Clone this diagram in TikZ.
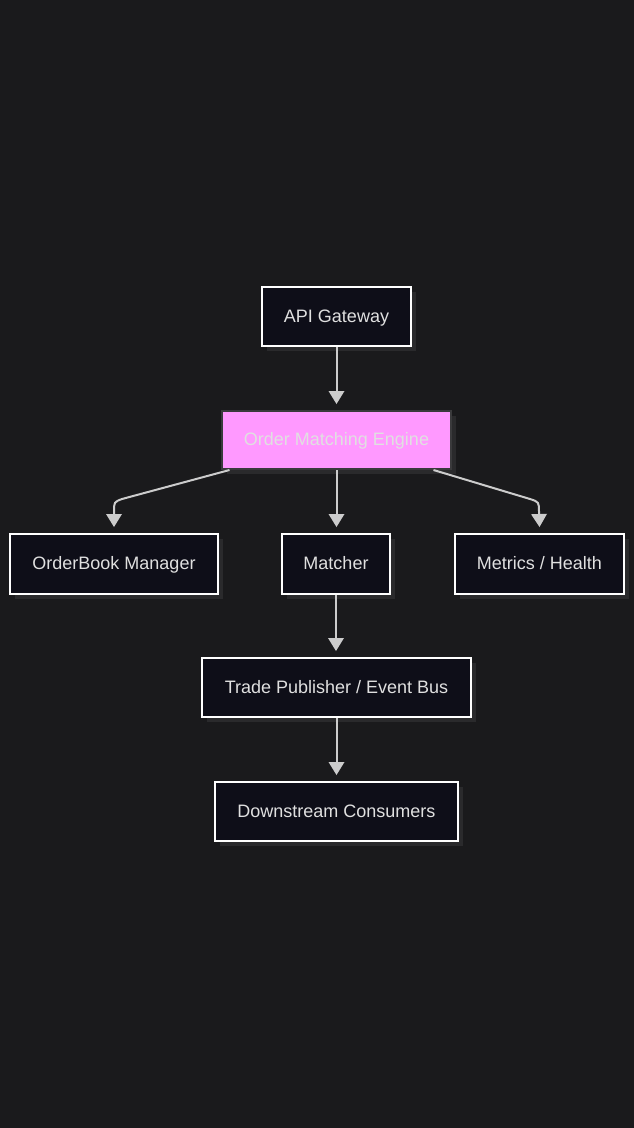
\documentclass[tikz,border=0pt]{standalone}
\usepackage{fontspec}
\setmainfont{Liberation Sans}
\usetikzlibrary{arrows.meta}
\definecolor{bg}{HTML}{1A1A1C}
\definecolor{nodefill}{HTML}{0E0E18}
\definecolor{shadowc}{HTML}{2A2A2C}
\definecolor{txt}{HTML}{E0E0E0}
\definecolor{edgec}{HTML}{CCCCCC}
\definecolor{pinkc}{HTML}{FF99FF}
\definecolor{pinkborder}{HTML}{3A3A3C}
\tikzset{
  box/.style={draw=white, line width=2pt, fill=nodefill, text=txt,
    font=\fontsize{18}{20}\selectfont, inner sep=0pt, anchor=center,
    text height=16pt, text depth=4.4pt,
    preaction={fill=shadowc, transform canvas={xshift=5pt, yshift=-5pt}}},
  hot/.style={box, fill=pinkc, draw=pinkborder},
  conn/.style={draw=edgec, line width=2pt, -{Triangle[length=13pt, width=16pt, line width=0pt]}}
}
\begin{document}
\begin{tikzpicture}[x=1pt, y=-1pt]
\fill[bg] (0,0) rectangle (634,1128);
\useasboundingbox (0,0) rectangle (634,1128);
\node[box, minimum width=149pt, minimum height=59pt] (api) at (336.5,316.5) {API Gateway};
\node[hot, minimum width=229pt, minimum height=58pt] (ome) at (336.5,440) {Order Matching Engine};
\node[box, minimum width=208pt, minimum height=60pt] (obm) at (114,564) {OrderBook Manager};
\node[box, minimum width=108pt, minimum height=60pt] (mat) at (336,564) {Matcher};
\node[box, minimum width=169pt, minimum height=60pt] (met) at (539.5,564) {Metrics / Health};
\node[box, minimum width=269pt, minimum height=59pt] (tpb) at (336.5,687.5) {Trade Publisher / Event Bus};
\node[box, minimum width=243pt, minimum height=59pt] (dsc) at (336.5,811.5) {Downstream Consumers};
\draw[conn] (api.south) -- ([yshift=6pt]ome.north);
\draw[conn] (ome.south) -- ([yshift=6pt]ome.south |- mat.north);
\draw[conn] ([xshift=-107pt]ome.south) -- (122,499) .. controls (114,502) .. (114,512) -- ([yshift=6pt]obm.north);
\draw[conn] ([xshift=97pt]ome.south) -- (530,499) .. controls (539,502) .. (539,512) -- ([yshift=6pt]met.north);
\draw[conn] (mat.south) -- ([yshift=6pt]mat.south |- tpb.north);
\draw[conn] (tpb.south) -- ([yshift=6pt]dsc.north);
\end{tikzpicture}
\end{document}
